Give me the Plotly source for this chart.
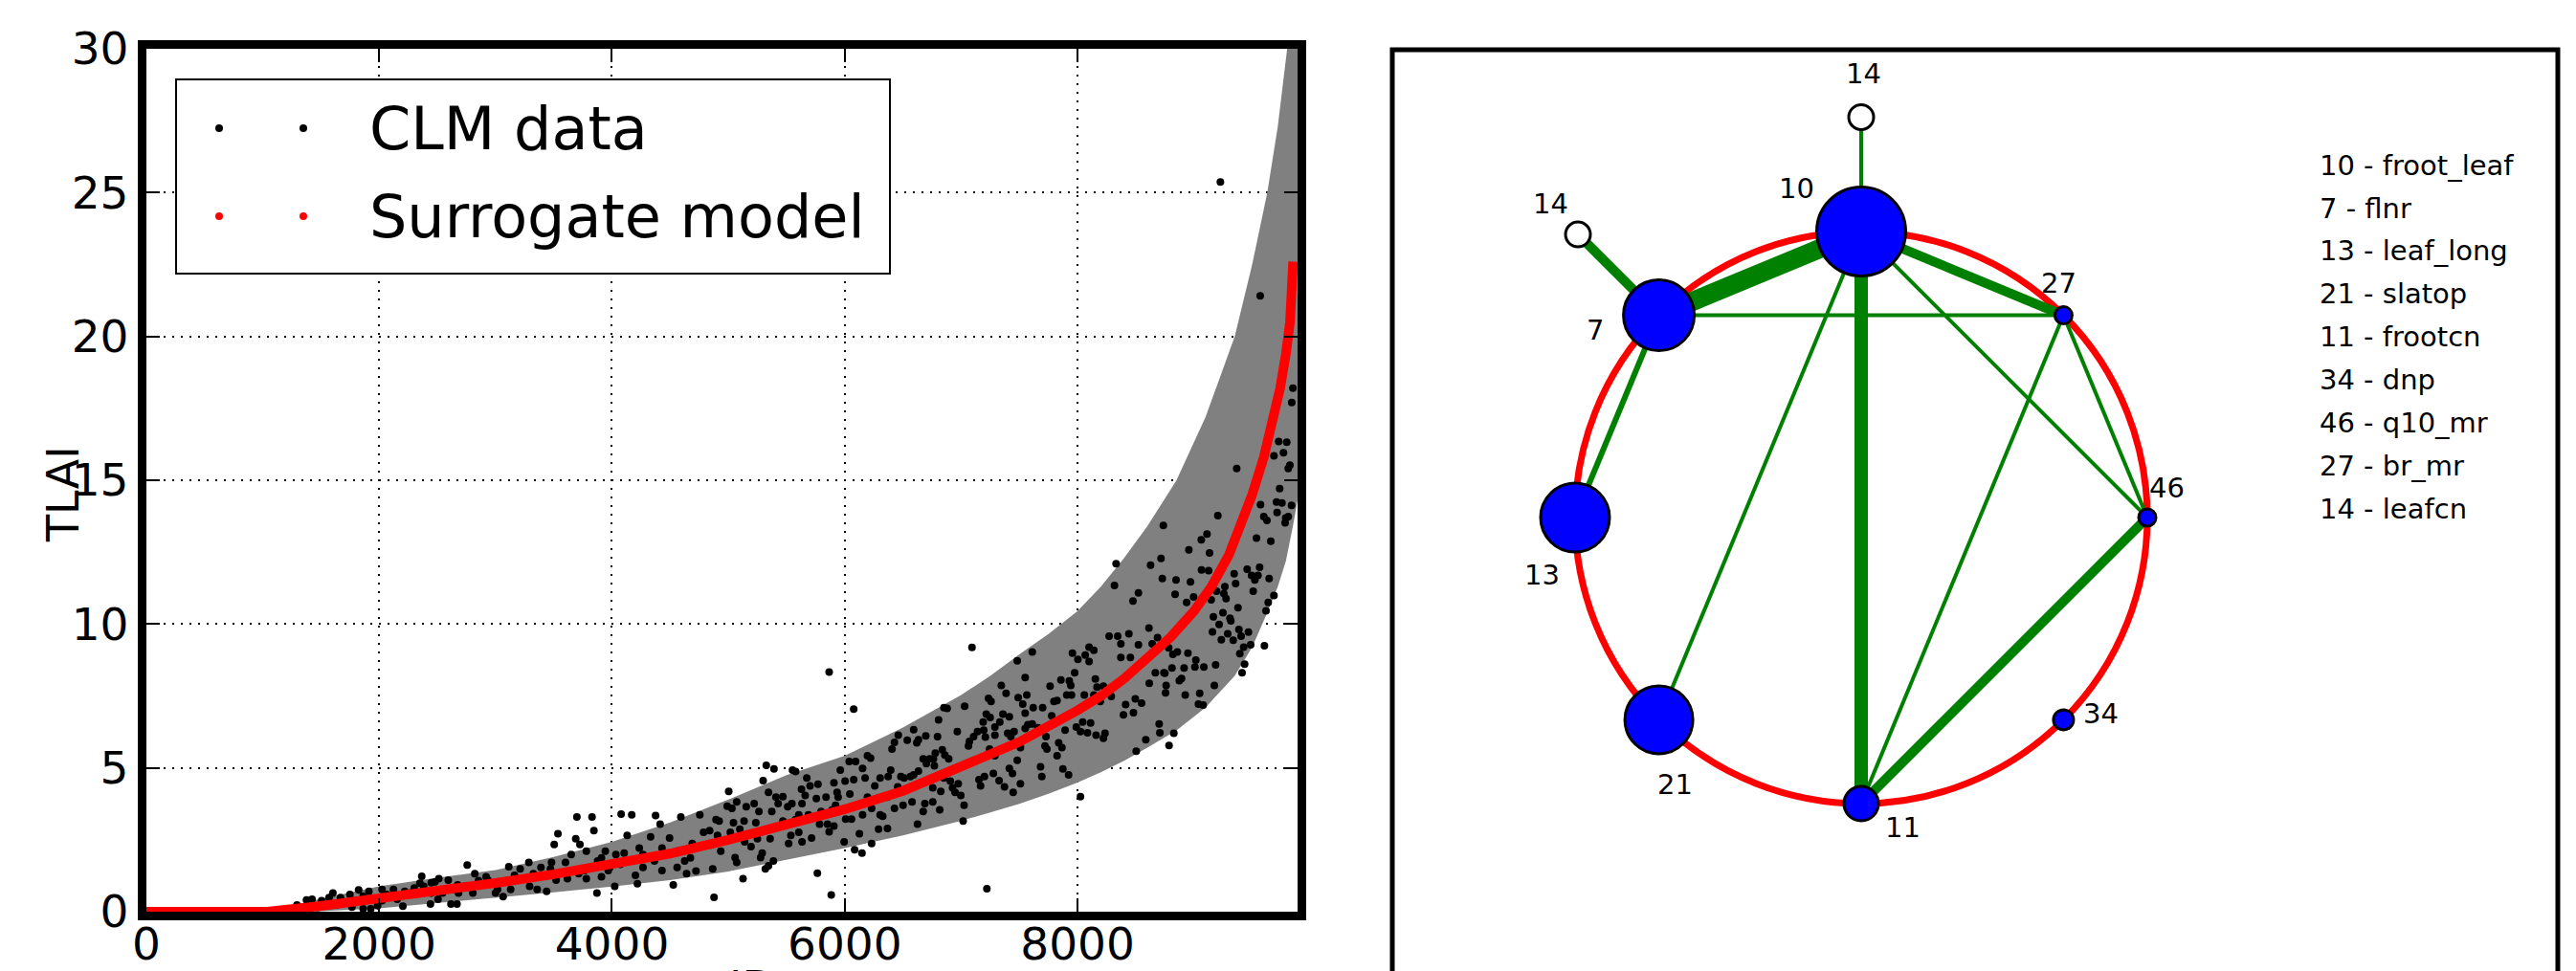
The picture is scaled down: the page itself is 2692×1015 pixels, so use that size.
import numpy as np
import plotly.graph_objects as go

W, H = 2692, 1015
FONT = "DejaVu Sans"

# ---------------- left panel data ----------------
band_id = [0, 1000, 1050, 1500, 2000, 2500, 3000, 3500, 4000, 4500, 5000, 5500, 6000, 6500,
           7000, 7250, 7500, 7750, 8000, 8200, 8400, 8600, 8850, 9100, 9350, 9500, 9630, 9720,
           9790, 9850, 9890]
band_lower = [0, 0, 0, 0.02, 0.12, 0.30, 0.47, 0.67, 0.87, 1.10, 1.40, 1.80, 2.21, 2.65,
              3.16, 3.45, 3.75, 4.10, 4.49, 4.85, 5.25, 5.7, 6.3, 7.1, 8.2, 9.2, 10.4, 11.3,
              12.2, 13.4, 14.3]
band_upper = [0, 0, 0.02, 0.45, 0.88, 1.18, 1.45, 1.90, 2.43, 3.10, 3.90, 4.75, 5.42, 6.40,
              7.53, 8.20, 8.95, 9.65, 10.45, 11.3, 12.3, 13.4, 15.0, 17.2, 20.0, 22.5, 25.0, 27.3,
              29.5, 31.5, 33.0]

surr_id = [0, 1040, 1500, 2000, 2500, 3000, 3500, 4000, 4500, 5000, 5500, 6000, 6500, 7000,
           7500, 8000, 8200, 8400, 8600, 8800, 9000, 9150, 9300, 9400, 9500, 9600, 9680, 9740,
           9790, 9825, 9852]
surr_tlai = [0, 0, 0.2, 0.45, 0.72, 1.0, 1.3, 1.63, 2.02, 2.5, 3.0, 3.56, 4.2, 5.04,
             5.9, 7.0, 7.5, 8.1, 8.8, 9.55, 10.45, 11.3, 12.4, 13.4, 14.5, 15.8, 17.0, 18.2,
             19.4, 20.5, 22.6]

clm_id = [
    1294, 1376, 1424, 1506, 1603, 1570, 1668, 1749, 1824, 1863,
    1912, 1987, 2025, 2064, 2123, 2155, 2204, 2220, 2302, 2366,
    2383, 2448, 2480, 2513, 2441, 2506, 2578, 2617, 2669, 2682,
    2740, 2757, 2822, 2854, 2919, 2961, 3017, 3065, 3114, 3163,
    3212, 3286, 3293, 3358, 3390, 3439, 3481, 3504, 3536, 3601,
    3650, 3689, 3699, 3725, 3764, 3780, 3829, 3845, 3871, 3910,
    3943, 3968, 4024, 4079, 4131, 4170, 4202, 4219, 4267, 4332,
    4375, 4414, 4462, 4495, 4527, 4560, 4592, 4625, 4674, 4722,
    4755, 4787, 4034, 3877, 3981, 3715, 3618, 3520, 3130, 3000,
    2935, 2805, 2675, 2643, 2594, 2545, 2448, 2350, 2269, 2025,
    1928, 1798, 1717, 1635, 1766, 1863, 1928, 1473, 1359, 3910,
    4072, 4267, 4365, 4430, 4641, 4690, 4560, 4430, 4235, 4105,
    3780, 3472, 3325,
    5866, 7093, 6077, 8025, 8331, 8317, 8476, 8523, 8271, 8345,
    8441, 8372, 8523, 8372, 8454, 8496, 8550, 8413, 8480, 8394,
    8586, 8504, 7956, 8003, 8066, 8099, 8140, 8099, 7975, 7929,
    7857, 7942, 7764, 8153, 8167, 8222, 8140, 8290, 8195, 8058,
    7907, 7948, 7824, 7778, 7989, 8044, 8112, 8025, 8085, 8159,
    8236, 8222, 7893, 7824, 7838, 7866, 7729, 7720, 7737, 7682,
    7693, 7874, 7923, 7611, 7482, 7550, 7490, 7529, 7564, 7619,
    7550, 7611, 7573, 7550, 7700, 7797, 7660, 7386, 7345, 7359,
    7414, 7332, 7290, 7455, 7427, 7400, 7509, 7482, 7414, 7441,
    7509, 7447, 7290, 7249, 7216, 7257, 7235, 7189, 7194, 7140,
    7107, 7071, 7063, 7208, 7244, 7290, 7277, 7167, 7153, 7200,
    7326, 7372, 7030, 6967, 7025, 7017, 6997, 6975, 6926, 6948,
    6893, 6860, 6838, 6778, 6762, 6729, 6701, 6674, 6806, 6852,
    6880, 6797, 6770, 6852, 6907, 6825, 6756, 6756, 6816, 6688,
    6674, 6625, 6578, 6564, 6592, 6633, 6619, 6633, 6696, 6592,
    6537, 6460, 6427, 6406, 6510, 6482, 6455, 6373, 6395, 6304,
    6258, 6277, 6367, 6427, 6501, 6304, 6326, 6231, 6195, 6153,
    6126, 6231, 6291, 6367, 6085, 6148, 5995, 6008, 6058, 5989,
    6044, 6003, 5962, 6038, 6093, 6153, 6195, 6222, 6175, 6077,
    5934, 5943, 5921, 5907, 5893, 5852, 5866, 5907, 5797, 5839,
    5756, 5770, 5702, 5674, 5660, 5633, 5605, 5578, 5546, 5578,
    5551, 5628, 5510, 5469, 5537, 5518, 5633, 5715, 5688, 5428,
    5373, 5345, 5326, 5392, 5299, 5409, 5469, 5359, 5318, 5345,
    5387, 5291, 5277, 5195, 5236, 5222, 5263, 5154, 5135, 5099,
    5072, 5031, 4990, 5003, 5044, 5017, 4921, 4907, 4839, 4852,
    4866, 5072, 5126, 5765, 4894, 4935, 5058, 5140, 5250, 5605,
    5784, 4877, 5884, 7221,
    9367, 9205, 8737, 9112, 9063, 8956, 9134, 9537, 9660, 9572,
    9600, 9627, 9709, 9756, 9714, 9788, 9783, 9838, 9810, 9736,
    9687, 9769, 9728, 9797, 9810, 9824, 8627, 8717, 8728, 8846,
    8838, 8970, 8937, 8997, 9065, 9126, 9148, 9194, 9265, 9257,
    9276, 9345, 9358, 9378, 9457, 9495, 9550, 9523, 9564, 9509,
    9646, 9687, 9638, 9619, 9605, 9487, 9468, 9405, 9386, 9309,
    9317, 9249, 9216, 9167, 9159, 9290, 9337, 9235, 9427, 9394,
    9435, 9413, 9186, 9175, 9085, 9016, 9008, 8948, 8915, 8925,
    8874, 8893, 8857, 8811, 8819, 8783, 8750, 8761, 8756, 8668,
    8616, 9049, 9038, 9079, 8701, 8707, 8827, 8786, 8613, 8687,
    8641, 8742, 9227, 9569, 9701, 9850, 9840,
]
clm_tlai = [
    0.23, 0.41, 0.43, 0.38, 0.65, 0.49, 0.49, 0.60, 0.76, 0.54,
    0.71, 0.21, 0.77, 0.60, 0.77, 0.43, 0.19, 0.71, 0.82, 1.23,
    0.88, 1.01, 1.04, 1.15, 0.27, 0.43, 0.77, 0.27, 0.27, 0.65,
    0.88, 1.62, 1.32, 1.08, 1.21, 0.97, 0.77, 0.52, 1.56, 1.26,
    1.49, 1.71, 0.88, 0.77, 1.54, 0.71, 1.71, 2.34, 2.71, 1.71,
    1.99, 2.54, 3.29, 2.34, 1.43, 1.15, 3.29, 2.82, 0.65, 1.21,
    2.10, 1.43, 0.88, 3.39, 2.65, 3.37, 1.26, 0.97, 1.99, 2.60,
    3.34, 3.04, 1.99, 2.56, 0.93, 1.54, 3.29, 1.76, 1.87, 1.41,
    3.37, 2.76, 1.99, 1.76, 1.54, 1.32, 1.15, 1.10, 0.77, 0.65,
    1.10, 0.65, 0.93, 0.77, 1.10, 0.65, 0.65, 0.99, 0.65, 0.38,
    0.43, 0.38, 0.32, 0.23, 0.16, 0.10, 0.10, 0.15, 0.12, 1.87,
    1.65, 1.54, 1.76, 1.43, 1.32, 2.37, 2.10, 2.21, 2.21, 2.04,
    2.10, 1.49, 1.32,
    8.33, 9.19, 7.04, 4.00, 12.10, 11.34, 10.80, 11.08, 9.58, 9.58,
    9.66, 9.31, 9.28, 8.84, 8.84, 7.40, 7.25, 7.20, 6.92, 6.84,
    5.98, 5.58, 8.99, 8.77, 8.92, 9.20, 9.09, 8.70, 8.31, 8.02,
    8.06, 7.87, 7.84, 8.09, 7.81, 7.84, 7.53, 7.48, 7.31, 7.53,
    7.53, 7.53, 7.34, 6.81, 6.42, 6.59, 6.56, 6.26, 6.22, 6.14,
    6.20, 6.03, 6.31, 5.42, 5.87, 5.70, 6.09, 5.76, 5.65, 5.04,
    4.70, 4.96, 4.76, 9.03, 8.72, 8.14, 7.44, 7.22, 7.53, 7.09,
    6.90, 6.53, 6.50, 6.37, 7.09, 7.31, 6.39, 7.59, 7.87, 6.87,
    6.78, 6.59, 6.42, 6.26, 6.09, 6.20, 5.70, 5.26, 4.98, 4.81,
    4.45, 4.15, 6.14, 6.75, 6.87, 7.31, 7.42, 6.59, 6.31, 6.26,
    6.09, 5.92, 5.76, 6.07, 5.65, 5.42, 4.81, 4.37, 4.59, 4.70,
    4.56, 4.34, 7.14, 6.26, 3.70, 3.15, 4.04, 4.45, 4.31, 4.15,
    5.31, 5.45, 5.63, 5.51, 5.31, 5.31, 5.15, 5.31, 6.67, 7.09,
    7.07, 6.09, 5.07, 4.65, 4.54, 4.18, 4.31, 3.82, 3.54, 3.76,
    3.48, 3.04, 3.82, 4.70, 4.76, 4.89, 5.87, 5.98, 6.11, 6.33,
    5.96, 6.14, 5.89, 5.65, 4.65, 4.70, 4.34, 4.70, 4.92, 4.65,
    4.37, 3.93, 3.98, 3.59, 3.70, 3.37, 3.32, 3.59, 3.98, 3.37,
    2.71, 2.37, 2.87, 2.89, 2.15, 2.04, 2.43, 3.22, 3.22, 3.54,
    4.09, 4.54, 4.92, 5.22, 5.22, 4.98, 5.42, 5.34, 4.65, 4.59,
    4.15, 3.98, 3.70, 4.48, 3.54, 3.04, 2.78, 2.98, 3.48, 3.98,
    3.93, 4.43, 4.37, 4.65, 4.04, 3.76, 3.37, 3.20, 3.76, 4.87,
    4.92, 4.26, 3.65, 3.15, 2.65, 2.37, 2.43, 2.56, 3.37, 3.76,
    3.48, 4.15, 5.09, 4.96, 4.56, 3.98, 4.00, 2.54, 1.49, 1.60,
    1.76, 2.04, 1.88, 2.26, 3.09, 3.76, 3.48, 3.65, 3.15, 2.87,
    3.82, 3.59, 3.67, 4.18, 3.09, 2.76, 3.15, 2.65, 2.82, 2.32,
    1.49, 1.71, 1.15, 1.34, 3.20, 2.10, 1.88, 2.43, 2.54, 2.76,
    3.04, 0.50, 0.58, 0.80,
    15.41, 13.77, 13.43, 13.13, 12.93, 12.58, 12.47, 12.99, 12.88, 14.15,
    13.74, 13.60, 14.24, 14.21, 13.88, 13.69, 13.52, 14.13, 13.74, 14.71,
    15.85, 15.96, 16.35, 16.32, 15.41, 15.52, 12.05, 12.28, 11.58, 11.53,
    11.03, 11.47, 10.75, 10.94, 11.88, 11.86, 10.84, 11.14, 11.30, 11.06,
    10.88, 11.75, 11.41, 10.57, 11.91, 11.69, 11.69, 11.53, 11.97, 11.14,
    11.58, 10.99, 10.75, 10.46, 9.25, 9.28, 9.72, 9.58, 9.81, 10.20,
    10.11, 10.39, 9.99, 10.25, 9.73, 9.66, 9.44, 9.45, 9.20, 8.97,
    8.61, 8.31, 8.58, 7.87, 8.51, 8.75, 8.51, 8.99, 8.47, 7.53,
    8.03, 8.11, 9.03, 8.47, 8.95, 9.17, 8.29, 7.87, 7.61, 8.31,
    7.94, 7.59, 7.22, 7.18, 6.53, 6.22, 6.20, 5.78, 9.86, 9.53,
    9.31, 8.31, 25.37, 21.41, 17.47, 18.20, 17.70,
]

x_ticks = [0, 2000, 4000, 6000, 8000]
y_ticks = [0, 5, 10, 15, 20, 25, 30]

# ---------------- right panel data ----------------
node_label = ["10", "7", "13", "21", "11", "34", "46", "27", "14", "14"]
node_angle = [90, 135, 180, 225, 270, 315, 0, 45, 90, 135]
node_ring = [1, 1, 1, 1, 1, 1, 1, 1, 1.4, 1.4]
node_size = [93, 74, 72, 71, 36, 21, 18, 18, 26, 26]
node_color = ["#0000ff"] * 8 + ["#ffffff"] * 2
label_dx = [-68, -67, -35, 17, 43, 39, 20, -5, 2, -29]
label_dy = [-45, 15, 60, 68, 25, -6, -31, -34, -45, -32]

edge_a = [0, 1, 0, 0, 0, 0, 0, 1, 1, 7, 7, 6]
edge_b = [8, 9, 1, 7, 4, 6, 3, 7, 2, 6, 4, 4]
edge_w = [4, 10, 20, 10, 14, 4, 4, 4, 6, 4, 4, 10]

param_text = ["10 - froot_leaf", "7 - flnr", "13 - leaf_long", "21 - slatop",
              "11 - frootcn", "34 - dnp", "46 - q10_mr", "27 - br_mr", "14 - leafcn"]


def px(x):
    return x / W


def py(y):
    return 1 - y / H


fig = go.Figure()

# band
fig.add_trace(go.Scatter(x=band_id, y=band_lower, mode="lines", line=dict(width=0, color="#808080"),
                         showlegend=False, hoverinfo="skip", xaxis="x", yaxis="y"))
fig.add_trace(go.Scatter(x=band_id, y=band_upper, mode="lines", line=dict(width=0, color="#808080"),
                         fill="tonexty", fillcolor="#808080", showlegend=False, hoverinfo="skip",
                         xaxis="x", yaxis="y"))
# data
fig.add_trace(go.Scatter(x=clm_id, y=clm_tlai, mode="markers",
                         marker=dict(size=8, color="black", opacity=1),
                         name="CLM data", showlegend=False, xaxis="x", yaxis="y"))
# surrogate
fig.add_trace(go.Scatter(x=surr_id, y=surr_tlai, mode="lines", line=dict(color="#ff0000", width=10),
                         name="Surrogate model", showlegend=False, xaxis="x", yaxis="y"))

# network layout
ang = np.deg2rad(np.array(node_angle, dtype=float))
nx_ = np.array(node_ring) * np.cos(ang)
ny_ = np.array(node_ring) * np.sin(ang)

for a, b, w in zip(edge_a, edge_b, edge_w):
    fig.add_trace(go.Scatter(x=[nx_[a], nx_[b]], y=[ny_[a], ny_[b]], mode="lines",
                             line=dict(color="#008000", width=w), showlegend=False,
                             hoverinfo="skip", xaxis="x2", yaxis="y2"))

fig.add_trace(go.Scatter(x=nx_, y=ny_, mode="markers",
                         marker=dict(size=node_size, color=node_color, opacity=1,
                                     line=dict(color="black", width=3)),
                         showlegend=False, hoverinfo="skip", xaxis="x2", yaxis="y2"))

annotations = []
for i, lab in enumerate(node_label):
    annotations.append(dict(x=nx_[i], y=ny_[i], xref="x2", yref="y2", text=lab, showarrow=False,
                            xshift=label_dx[i], yshift=-label_dy[i], xanchor="center",
                            yanchor="middle", font=dict(family=FONT, size=29, color="black")))
for i, t in enumerate(param_text):
    annotations.append(dict(x=px(2422), y=py(172.7 + 44.9 * i), xref="paper", yref="paper", text=t,
                            showarrow=False, xanchor="left", yanchor="middle",
                            font=dict(family=FONT, size=29, color="black")))

# left legend texts
annotations.append(dict(x=px(384), y=py(134), xref="paper", yref="paper", text="CLM data",
                        showarrow=False, xanchor="left", yanchor="middle",
                        font=dict(family=FONT, size=62, color="black")))
annotations.append(dict(x=px(384), y=py(226), xref="paper", yref="paper", text="Surrogate model",
                        showarrow=False, xanchor="left", yanchor="middle",
                        font=dict(family=FONT, size=62, color="black")))
# axis titles
annotations.append(dict(x=px(66), y=py(517), xref="paper", yref="paper", text="TLAI",
                        showarrow=False, textangle=-90, xanchor="center", yanchor="middle",
                        font=dict(family=FONT, size=46, color="black")))
annotations.append(dict(x=px(786), y=py(1003), xref="paper", yref="paper", text="ID",
                        showarrow=False, xanchor="center", yanchor="top",
                        font=dict(family=FONT, size=46, color="black")))

shapes = []
# legend box
shapes.append(dict(type="rect", xref="paper", yref="paper", x0=px(184), x1=px(930), y0=py(286),
                   y1=py(83), line=dict(color="black", width=2), fillcolor="white", layer="above"))
for yy, col in [(134, "black"), (226, "#ff0000")]:
    for xx in (229, 317):
        shapes.append(dict(type="circle", xref="paper", yref="paper", xsizemode="pixel",
                           ysizemode="pixel", xanchor=px(xx), yanchor=py(yy), x0=-4, x1=4, y0=-4,
                           y1=4, fillcolor=col, line=dict(color=col, width=0), layer="above"))
# right panel box
shapes.append(dict(type="rect", xref="paper", yref="paper", x0=px(1455), x1=px(2673), y0=-0.3,
                   y1=py(52), line=dict(color="black", width=5), fillcolor="rgba(0,0,0,0)",
                   layer="above"))
# red ring
shapes.append(dict(type="circle", xref="x2", yref="y2", x0=-1, x1=1, y0=-1, y1=1,
                   line=dict(color="#ff0000", width=7), layer="below"))

# right axes ranges (circle centre at pixel 1945,541, radius 299 px)
R = 299.0
x2_dom = [px(1456), px(2673)]
y2_dom = [0.0, py(52)]
x2_rng = [(1456 - 1945) / R, (2673 - 1945) / R]
y2_rng = [-(1015 - 541) / R, (541 - 52) / R]

axis_common = dict(showgrid=True, gridcolor="black", gridwidth=2, griddash="2px,7px",
                   showline=True, linewidth=9, linecolor="black", mirror="ticks",
                   ticks="inside", ticklen=14, tickwidth=2, tickcolor="black", zeroline=False,
                   tickfont=dict(family=FONT, size=47, color="black"), automargin=False)

fig.update_layout(
    width=W, height=H, margin=dict(l=0, r=0, t=0, b=0),
    paper_bgcolor="white", plot_bgcolor="white", hovermode=False, showlegend=False,
    xaxis=dict(domain=[px(152.9), px(1356)], range=[0, 9890], tickvals=x_ticks, anchor="y",
               ticklabelstandoff=-15, **axis_common),
    yaxis=dict(domain=[py(953), py(51)], range=[0, 30], tickvals=y_ticks, anchor="x",
               **axis_common),
    xaxis2=dict(domain=x2_dom, range=x2_rng, visible=False, anchor="y2"),
    yaxis2=dict(domain=y2_dom, range=y2_rng, visible=False, anchor="x2"),
    annotations=annotations, shapes=shapes,
)

fig.write_html("out.html", config={"displayModeBar": False},
               post_script="document.body.style.margin='0px';")
